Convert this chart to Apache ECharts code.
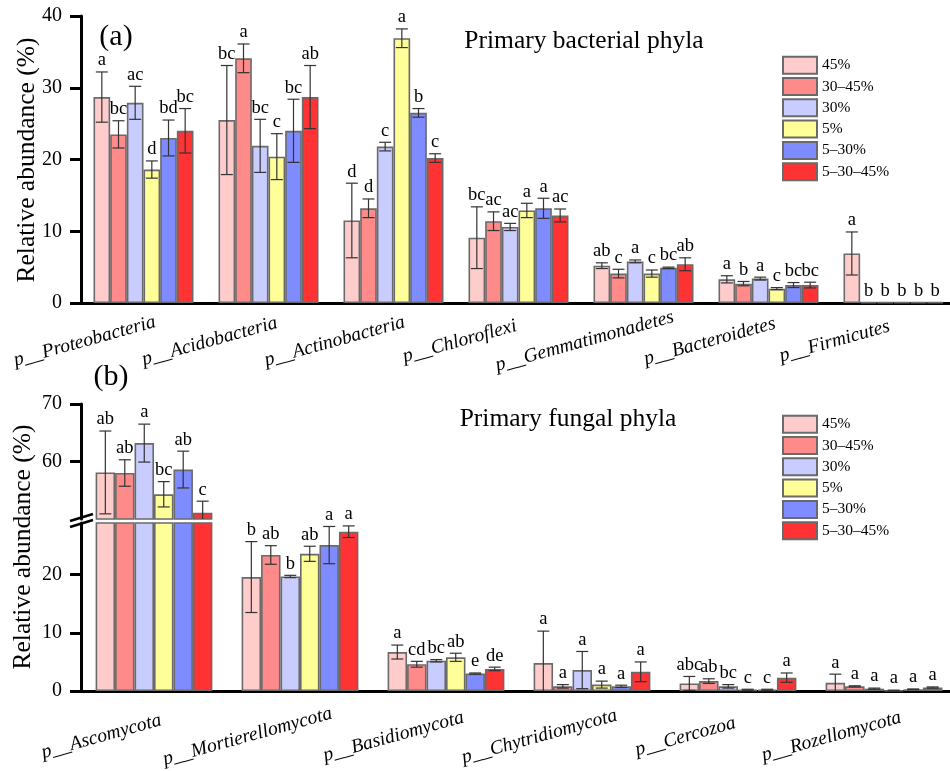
<!DOCTYPE html>
<html>
<head>
<meta charset="utf-8">
<script src="https://cdn.jsdelivr.net/npm/echarts@6/dist/echarts.min.js"></script>
<style>
  html, body { margin: 0; padding: 0; background: #fff; }
  #chart { width: 950px; height: 771px; }
</style>
</head>
<body>
<div id="chart"></div>
<script>
const groups = ["45%", "30–45%", "30%", "5%", "5–30%", "5–30–45%"];
const colors = ["#ffcccc", "#ff8a8a", "#c9ccff", "#ffff99", "#7f8cff", "#ff3333"];

// (a) bacteria
const bacteriaPhyla = ["p__Proteobacteria", "p__Acidobacteria", "p__Actinobacteria", "p__Chloroflexi",
  "p__Gemmatimonadetes", "p__Bacteroidetes", "p__Firmicutes"];
const bacteriaMean = [
  [28.7, 25.5, 11.5, 9.1, 5.2, 3.3, 6.9],
  [23.5, 34.1, 13.2, 11.4, 4.1, 2.7, 0.1],
  [27.9, 21.9, 21.8, 10.6, 5.8, 3.4, 0.1],
  [18.6, 20.4, 36.9, 12.9, 4.1, 2.0, 0.1],
  [23.0, 24.0, 26.5, 13.2, 4.9, 2.5, 0.1],
  [24.0, 28.7, 20.2, 12.2, 5.4, 2.5, 0.1]
];
const bacteriaSd = [
  [3.5, 7.6, 5.2, 4.3, 0.4, 0.5, 3.0],
  [1.9, 2.0, 1.3, 1.3, 0.6, 0.3, 0],
  [2.3, 3.7, 0.6, 0.5, 0.2, 0.2, 0],
  [1.2, 3.2, 1.3, 1.0, 0.5, 0.15, 0],
  [2.5, 4.4, 0.6, 1.4, 0.1, 0.35, 0],
  [3.1, 4.4, 0.6, 0.9, 0.9, 0.4, 0]
];
const bacteriaLetters = [
  ["a", "bc", "d", "bc", "ab", "a", "a"],
  ["bc", "a", "d", "ac", "c", "b", "b"],
  ["ac", "bc", "c", "ac", "a", "a", "b"],
  ["d", "c", "a", "a", "c", "c", "b"],
  ["bd", "bc", "b", "a", "bc", "bc", "b"],
  ["bc", "ab", "c", "ac", "ab", "bc", "b"]
];

// (b) fungi
const fungiPhyla = ["p__Ascomycota", "p__Mortierellomycota", "p__Basidiomycota", "p__Chytridiomycota",
  "p__Cercozoa", "p__Rozellomycota"];
const fungiMean = [
  [58.1, 19.6, 6.7, 4.8, 1.3, 1.4],
  [58.0, 23.4, 4.6, 0.8, 1.7, 0.8],
  [63.2, 19.7, 5.2, 3.6, 0.8, 0.4],
  [54.3, 23.6, 5.8, 1.1, 0.2, 0.1],
  [58.6, 25.1, 3.0, 0.8, 0.2, 0.3],
  [51.1, 27.4, 3.8, 3.3, 2.3, 0.6]
];
const fungiSd = [
  [7.2, 6.1, 1.2, 5.5, 1.2, 1.5],
  [2.3, 1.6, 0.5, 0.3, 0.4, 0.1],
  [3.3, 0.2, 0.2, 3.2, 0.3, 0.1],
  [2.2, 1.3, 0.7, 0.6, 0.1, 0.05],
  [3.2, 3.2, 0.1, 0.2, 0.1, 0.05],
  [2.0, 1.0, 0.3, 1.7, 0.8, 0.1]
];
const fungiLetters = [
  ["ab", "b", "a", "a", "abc", "a"],
  ["ab", "ab", "cd", "a", "ab", "a"],
  ["a", "b", "bc", "a", "bc", "a"],
  ["bc", "ab", "ab", "a", "c", "a"],
  ["ab", "a", "e", "a", "c", "a"],
  ["c", "a", "de", "a", "a", "a"]
];

const yTicksA = [0, 10, 20, 30, 40];
const yTicksBUpper = [60, 70];
const yTicksBLower = [0, 10, 20];
const brk = [28.9, 50]; // broken range on the fungal axis

const SERIF = '"Liberation Serif", "Times New Roman", serif';

var myChart = echarts.init(document.getElementById("chart"));

function yAxis(grid, min, max, ticks) {
  return {
    type: "value",
    gridIndex: grid,
    min: min,
    max: max,
    splitLine: { show: false },
    axisLine: { show: true, onZero: false, lineStyle: { color: "#000", width: 3 } },
    axisTick: { show: true, length: 11, customValues: ticks, lineStyle: { color: "#000", width: 3 } },
    axisLabel: { customValues: ticks, margin: 19, color: "#000", fontSize: 20, fontFamily: SERIF }
  };
}

// labels are centred a bit left of the tick, as in the original figure
function xAxis(grid, cats, show, margin, shiftLeft) {
  return {
    type: "category",
    gridIndex: grid,
    data: cats,
    show: show,
    axisLine: { lineStyle: { color: "#000", width: 3 } },
    axisTick: { alignWithLabel: true, length: 12, lineStyle: { color: "#000", width: 3 } },
    axisLabel: {
      interval: 0, rotate: 15.5, margin: margin,
      align: "center", verticalAlign: "middle",
      padding: [0, shiftLeft * 2, 0, 0],
      color: "#000", fontSize: 19.5, fontStyle: "italic", fontFamily: SERIF
    }
  };
}

function barSeries(g, axis, values) {
  return {
    type: "bar",
    name: groups[g],
    xAxisIndex: axis,
    yAxisIndex: axis,
    data: values,
    barGap: "0%",
    barCategoryGap: "20%",
    itemStyle: { color: colors[g], borderColor: "#6a6a6a", borderWidth: 1.6 }
  };
}

// error bars + significance letters, placed with the axis scales
function errorSeries(g, axis, means, sds, letters, lo, hi) {
  return {
    type: "custom",
    xAxisIndex: axis,
    yAxisIndex: axis,
    z: 5,
    silent: true,
    data: means.map(function (m, i) { return [i, m, sds[i]]; }),
    renderItem: function (params, api) {
      var cat = api.value(0), m = api.value(1), s = api.value(2);
      if (m < lo || m > hi) return null;
      var band = api.size([1, 0])[0];
      var bw = band * 0.8 / 6;
      var x = api.coord([cat, m])[0] + (g - 2.5) * bw;
      var yTop = api.coord([cat, m + s])[1];
      var low = Math.max(m - s, lo);
      var yBot = api.coord([cat, low])[1];
      var ls = { stroke: "#333", lineWidth: 1.2 };
      var children = [];
      if (s > 0) {
        children.push({ type: "line", shape: { x1: x, y1: yTop, x2: x, y2: yBot }, style: ls });
        children.push({ type: "line", shape: { x1: x - 6, y1: yTop, x2: x + 6, y2: yTop }, style: ls });
        if (m - s > lo) {
          children.push({ type: "line", shape: { x1: x - 6, y1: yBot, x2: x + 6, y2: yBot }, style: ls });
        }
      }
      children.push({
        type: "text",
        style: {
          text: letters[params.dataIndex], x: x, y: yTop - 2,
          align: "center", verticalAlign: "bottom",
          font: "18.5px " + SERIF, fill: "#000"
        }
      });
      return { type: "group", children: children };
    }
  };
}

var series = [];
for (var g = 0; g < 6; g++) {
  series.push(barSeries(g, 0, bacteriaMean[g]));
}
for (var g = 0; g < 6; g++) {
  series.push(barSeries(g, 1, fungiMean[g].map(function (v) { return v >= brk[1] ? v : null; })));
}
for (var g = 0; g < 6; g++) {
  series.push(barSeries(g, 2, fungiMean[g]));
}
for (var g = 0; g < 6; g++) {
  series.push(errorSeries(g, 0, bacteriaMean[g], bacteriaSd[g], bacteriaLetters[g], 0, 40));
  series.push(errorSeries(g, 1, fungiMean[g], fungiSd[g], fungiLetters[g], brk[1], 70));
  series.push(errorSeries(g, 2, fungiMean[g], fungiSd[g], fungiLetters[g], 0, brk[0]));
}

function legend(top) {
  return {
    data: groups,
    orient: "vertical",
    left: 777,
    top: top,
    padding: 5,
    icon: "rect",
    itemWidth: 34,
    itemHeight: 17,
    itemGap: 2.3,
    selectedMode: false,
    textStyle: { color: "#000", fontSize: 15.5, lineHeight: 17, fontFamily: SERIF }
  };
}

function label(text, x, y, size, rot) {
  return {
    type: "text", x: x, y: y, rotation: rot || 0,
    style: { text: text, font: size + "px " + SERIF, fill: "#000", align: "center", verticalAlign: "middle" }
  };
}

var option = {
  animation: false,
  backgroundColor: "#fff",
  grid: [
    { left: 81, top: 16, width: 875, height: 287, outerBoundsMode: "none" },
    { left: 81, top: 404, width: 876, height: 115, outerBoundsMode: "none" },
    { left: 81, top: 523, width: 876, height: 168, outerBoundsMode: "none" }
  ],
  xAxis: [
    xAxis(0, bacteriaPhyla, true, 22, 61),
    xAxis(1, fungiPhyla, false, 31, 54.5),
    xAxis(2, fungiPhyla, true, 31, 54.5)
  ],
  yAxis: [
    yAxis(0, 0, 40, yTicksA),
    yAxis(1, brk[1], 70, yTicksBUpper),
    yAxis(2, 0, brk[0], yTicksBLower)
  ],
  legend: [legend(50.7), legend(409.7)],
  graphic: [
    label("(a)", 116, 37, 30),
    label("(b)", 111, 377, 30),
    label("Primary bacterial phyla", 584, 41, 25.5),
    label("Primary fungal phyla", 568, 419, 25.5),
    label("Relative abundance (%)", 27, 160, 25.5, Math.PI / 2),
    label("Relative abundance (%)", 23, 547, 25.5, Math.PI / 2),
    {
      type: "line", shape: { x1: 70, y1: 521, x2: 93, y2: 514 },
      style: { stroke: "#000", lineWidth: 2.5 }, z: 10
    },
    {
      type: "line", shape: { x1: 70, y1: 527, x2: 93, y2: 520 },
      style: { stroke: "#000", lineWidth: 2.5 }, z: 10
    }
  ],
  series: series
};
myChart.setOption(option);
</script>
</body>
</html>
